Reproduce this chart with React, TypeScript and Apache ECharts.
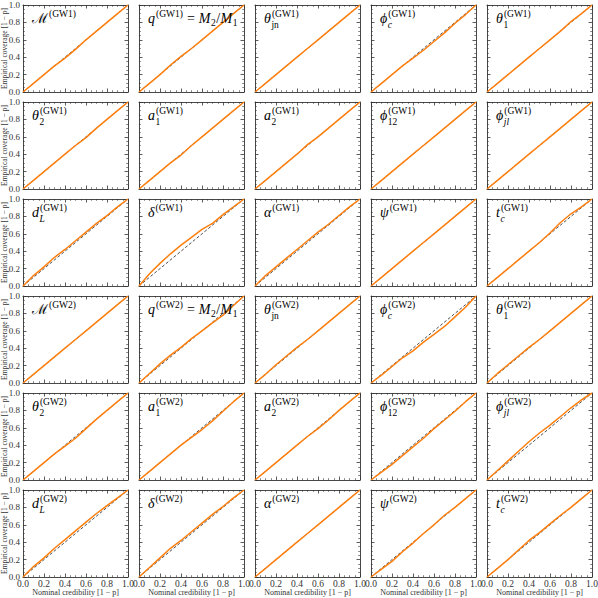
import React, { useEffect, useRef } from "react";
import * as echarts from "echarts";

// Nominal credibility grid
const NOMINAL = [0, 0.1, 0.2, 0.3, 0.4, 0.5, 0.6, 0.7, 0.8, 0.9, 1.0];

// Empirical coverage, GW1
const gw1_chirpMass = [0, 0.1, 0.2, 0.3, 0.39, 0.49, 0.6, 0.7, 0.8, 0.9, 1];
const gw1_massRatio = [0, 0.1, 0.2, 0.31, 0.41, 0.5, 0.6, 0.7, 0.8, 0.9, 1];
const gw1_thetaJN = [0, 0.1, 0.2, 0.3, 0.4, 0.5, 0.6, 0.7, 0.8, 0.9, 1];
const gw1_phiC = [0, 0.1, 0.2, 0.3, 0.39, 0.48, 0.58, 0.68, 0.79, 0.89, 1];
const gw1_theta1 = [0, 0.1, 0.2, 0.3, 0.4, 0.5, 0.6, 0.7, 0.81, 0.9, 1];
const gw1_theta2 = [0, 0.1, 0.2, 0.3, 0.4, 0.5, 0.59, 0.7, 0.8, 0.9, 1];
const gw1_a1 = [0, 0.1, 0.2, 0.3, 0.39, 0.5, 0.6, 0.7, 0.8, 0.9, 1];
const gw1_a2 = [0, 0.1, 0.2, 0.3, 0.4, 0.51, 0.6, 0.7, 0.8, 0.9, 1];
const gw1_phi12 = [0, 0.1, 0.2, 0.3, 0.4, 0.5, 0.6, 0.7, 0.8, 0.9, 1];
const gw1_phiJL = [0, 0.1, 0.2, 0.3, 0.4, 0.5, 0.6, 0.7, 0.8, 0.9, 1];
const gw1_dL = [0, 0.12, 0.22, 0.33, 0.42, 0.52, 0.62, 0.72, 0.81, 0.91, 1];
const gw1_delta = [0, 0.14, 0.26, 0.37, 0.47, 0.56, 0.65, 0.72, 0.82, 0.91, 1];
const gw1_alpha = [0, 0.12, 0.22, 0.32, 0.42, 0.52, 0.62, 0.71, 0.81, 0.91, 1];
const gw1_psi = [0, 0.1, 0.2, 0.3, 0.4, 0.5, 0.6, 0.7, 0.8, 0.9, 1];
const gw1_tc = [0, 0.1, 0.2, 0.3, 0.4, 0.5, 0.61, 0.73, 0.83, 0.91, 1];

// Empirical coverage, GW2
const gw2_chirpMass = [0, 0.1, 0.2, 0.3, 0.4, 0.5, 0.6, 0.7, 0.8, 0.9, 1];
const gw2_massRatio = [0, 0.11, 0.22, 0.32, 0.41, 0.51, 0.6, 0.69, 0.78, 0.89, 1];
const gw2_thetaJN = [0, 0.1, 0.21, 0.31, 0.41, 0.5, 0.6, 0.7, 0.8, 0.9, 1];
const gw2_phiC = [0, 0.09, 0.19, 0.29, 0.37, 0.47, 0.56, 0.65, 0.76, 0.87, 1];
const gw2_theta1 = [0, 0.11, 0.21, 0.31, 0.41, 0.5, 0.6, 0.7, 0.8, 0.9, 1];
const gw2_theta2 = [0, 0.1, 0.2, 0.3, 0.39, 0.48, 0.59, 0.7, 0.8, 0.9, 1];
const gw2_a1 = [0, 0.1, 0.2, 0.3, 0.4, 0.49, 0.58, 0.68, 0.79, 0.9, 1];
const gw2_a2 = [0, 0.1, 0.2, 0.3, 0.4, 0.5, 0.59, 0.69, 0.8, 0.9, 1];
const gw2_phi12 = [0, 0.09, 0.18, 0.28, 0.38, 0.48, 0.59, 0.69, 0.79, 0.9, 1];
const gw2_phiJL = [0, 0.11, 0.22, 0.33, 0.44, 0.54, 0.63, 0.73, 0.83, 0.92, 1];
const gw2_dL = [0, 0.12, 0.22, 0.33, 0.43, 0.53, 0.63, 0.73, 0.82, 0.91, 1];
const gw2_delta = [0, 0.11, 0.22, 0.33, 0.42, 0.52, 0.62, 0.72, 0.81, 0.91, 1];
const gw2_alpha = [0, 0.1, 0.2, 0.3, 0.4, 0.5, 0.6, 0.7, 0.8, 0.9, 1];
const gw2_psi = [0, 0.09, 0.18, 0.29, 0.39, 0.5, 0.6, 0.71, 0.8, 0.9, 1];
const gw2_tc = [0, 0.1, 0.2, 0.31, 0.42, 0.51, 0.61, 0.71, 0.8, 0.9, 1];

const COVERAGE = [
  gw1_chirpMass, gw1_massRatio, gw1_thetaJN, gw1_phiC, gw1_theta1,
  gw1_theta2, gw1_a1, gw1_a2, gw1_phi12, gw1_phiJL,
  gw1_dL, gw1_delta, gw1_alpha, gw1_psi, gw1_tc,
  gw2_chirpMass, gw2_massRatio, gw2_thetaJN, gw2_phiC, gw2_theta1,
  gw2_theta2, gw2_a1, gw2_a2, gw2_phi12, gw2_phiJL,
  gw2_dL, gw2_delta, gw2_alpha, gw2_psi, gw2_tc,
];

// Parameter symbols: main symbol, subscript, subscript italic?
const PARAM_SYMBOLS = ["ℳ", "q", "θ", "ϕ", "θ", "θ", "a", "a", "ϕ", "ϕ", "d", "δ", "α", "ψ", "t"];
const PARAM_SUBS = ["", "", "jn", "c", "1", "2", "1", "2", "12", "jl", "L", "", "", "", "c"];
const PARAM_SUB_ITALIC = [false, false, false, true, false, false, false, false, false, true, true, false, false, false, true];
const EVENTS = ["GW1", "GW2"];

const NCOL = 5;
const NROW = 6;
const LEFT0 = 23;
const TOP0 = 5;
const PW = 105;
const PH = 87;
const DX = 116;
const DY = 97;

const FONT = '"Liberation Serif", "DejaVu Serif", serif';
const ORANGE = "#ff7f0e";
const AXC = "#333333";

function measure(text: string, font: string): number {
  const c = document.createElement("canvas").getContext("2d");
  if (!c) return text.length * 6;
  c.font = font;
  return c.measureText(text).width;
}

function App() {
  const ref = useRef<HTMLDivElement>(null);
  useEffect(() => {
    if (!ref.current) return;
    const chart = echarts.init(ref.current, null, { renderer: "svg" });
    const grids: any[] = [];
    const xAxes: any[] = [];
    const yAxes: any[] = [];
    const series: any[] = [];
    const graphics: any[] = [];

    const baseAxis = (gridIndex: number, position: string, showLabel: boolean, isX: boolean) => ({
      type: "value",
      gridIndex,
      position,
      min: 0,
      max: 1,
      interval: 0.2,
      splitLine: { show: false },
      axisLine: { show: true, onZero: false, lineStyle: { color: AXC, width: 0.9 } },
      axisTick: { show: true, inside: true, length: 3.5, lineStyle: { color: AXC, width: 0.8 } },
      minorTick: { show: true, splitNumber: 4, length: 1.8, lineStyle: { color: AXC, width: 0.6 } },
      nameMoveOverlap: false,
      axisLabel: {
        show: showLabel,
        fontFamily: FONT,
        fontSize: isX ? 9.5 : 9,
        color: "#333",
        margin: isX ? 2 : 3,
        showMinLabel: true,
        showMaxLabel: true,
        hideOverlap: false,
        formatter: (v: number) => v.toFixed(1),
      },
    });

    const SUPF = 9.5;
    const MAINF = 14;
    for (let i = 0; i < NCOL * NROW; i++) {
      const r = Math.floor(i / NCOL);
      const c = i % NCOL;
      const left = LEFT0 + DX * c;
      const top = TOP0 + DY * r;
      grids.push({ left, top, width: PW, height: PH, outerBoundsMode: "none", containLabel: false });

      const xb: any = baseAxis(i, "bottom", r === NROW - 1, true);
      if (r === NROW - 1) {
        xb.name = "Nominal credibility [1 − p]";
        xb.nameLocation = "middle";
        xb.nameGap = 11;
        xb.nameTextStyle = { fontFamily: FONT, fontSize: 8, color: "#333" };
      }
      xAxes.push(xb);
      xAxes.push(baseAxis(i, "top", false, true));
      const yl: any = baseAxis(i, "left", c === 0, false);
      if (c === 0) {
        yl.name = "Empirical coverage [1 − p]";
        yl.nameLocation = "middle";
        yl.nameGap = 14.5;
        yl.nameTextStyle = { fontFamily: FONT, fontSize: 7.5, color: "#333" };
      }
      yAxes.push(yl);
      yAxes.push(baseAxis(i, "right", false, false));

      series.push({
        type: "line",
        xAxisIndex: 2 * i,
        yAxisIndex: 2 * i,
        data: [[0, 0], [1, 1]],
        showSymbol: false,
        symbol: "none",
        lineStyle: { color: "#000", width: 0.7, type: [3, 2] },
        z: 2,
        silent: true,
      });
      series.push({
        type: "line",
        xAxisIndex: 2 * i,
        yAxisIndex: 2 * i,
        data: NOMINAL.map((x, k) => [x, COVERAGE[i][k]]),
        showSymbol: false,
        symbol: "none",
        lineStyle: { color: ORANGE, width: 1.5 },
        z: 3,
        silent: true,
      });

      // Title
      const p = i % 15;
      const ev = EVENTS[Math.floor(i / 15)];
      const sym = PARAM_SYMBOLS[p];
      const sub = PARAM_SUBS[p];
      const subIt = PARAM_SUB_ITALIC[p];
      const mainFont = p === 0 ? `${MAINF}px "DejaVu Serif", ${FONT}` : `italic ${MAINF}px ${FONT}`;
      const supFont = `${SUPF}px ${FONT}`;
      const x0 = left + 9;
      const baseMain = top + 18;
      const baseSup = top + 12;
      const baseSub = top + 23;
      const mid = (b: number, s: number) => b - 0.34 * s;
      const wMain = measure(sym, mainFont);
      const supText = `(${ev})`;
      const wSup = measure(supText, supFont);
      graphics.push({
        type: "text", x: x0, y: mid(baseMain, MAINF), z: 10,
        style: { text: sym, font: mainFont, fill: "#000", verticalAlign: "middle", align: "left" },
      });
      graphics.push({
        type: "text", x: x0 + wMain + 1, y: mid(baseSup, SUPF), z: 10,
        style: { text: supText, font: supFont, fill: "#000", verticalAlign: "middle", align: "left" },
      });
      if (sub) {
        const subFont = `${subIt ? "italic " : ""}${SUPF}px ${FONT}`;
        graphics.push({
          type: "text", x: x0 + wMain + 0.5, y: mid(baseSub, SUPF), z: 10,
          style: { text: sub, font: subFont, fill: "#000", verticalAlign: "middle", align: "left" },
        });
      }
      if (p === 1) {
        let x = x0 + wMain + 1 + wSup + 4;
        const upFont = `${MAINF}px ${FONT}`;
        const subF = `${SUPF}px ${FONT}`;
        const runs: [string, string, number, number][] = [
          ["=", upFont, baseMain, MAINF],
          ["M", mainFont, baseMain, MAINF],
          ["2", subF, baseMain + 3, SUPF],
          ["/", upFont, baseMain, MAINF],
          ["M", mainFont, baseMain, MAINF],
          ["1", subF, baseMain + 3, SUPF],
        ];
        runs.forEach(([t, f, b, s], k) => {
          graphics.push({
            type: "text", x, y: mid(b, s), z: 10,
            style: { text: t, font: f, fill: "#000", verticalAlign: "middle", align: "left" },
          });
          x += measure(t, f) + (k === 0 ? 4 : 0.5);
        });
      }
    }

    chart.setOption({
      animation: false,
      backgroundColor: "#ffffff",
      grid: grids,
      xAxis: xAxes,
      yAxis: yAxes,
      series,
      graphic: graphics,
    });
    return () => chart.dispose();
  }, []);
  return <div ref={ref} style={{ width: 598, height: 598, position: "absolute", left: 0, top: 0 }} />;
}

export default App;
